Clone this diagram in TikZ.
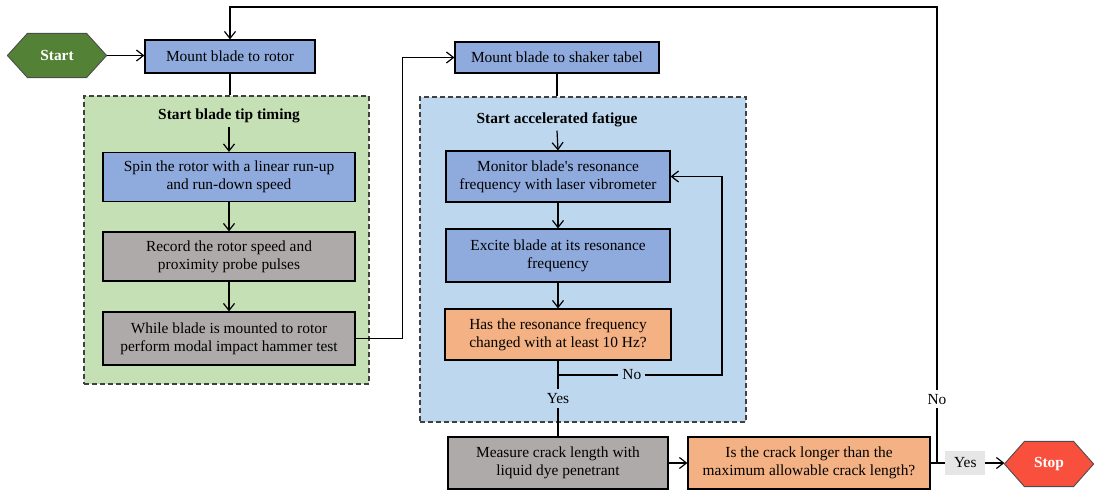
\documentclass[tikz,border=0pt]{standalone}
\usepackage{fontspec}
\setmainfont{Liberation Serif}
\usetikzlibrary{arrows.meta,backgrounds}

\definecolor{stepblue}{HTML}{8FAADC}
\definecolor{stepgray}{HTML}{AEAAAA}
\definecolor{steporange}{HTML}{F4B183}
\definecolor{groupgreen}{HTML}{C5E0B4}
\definecolor{groupblue}{HTML}{BDD7EE}
\definecolor{startgreen}{HTML}{538135}
\definecolor{stopred}{HTML}{F9503E}
\definecolor{labelgray}{HTML}{E7E6E6}

\begin{document}
\begin{tikzpicture}[x=1bp,y=-1bp,
  font=\fontsize{15.4bp}{18bp}\selectfont,
  line width=1.2bp,
  link/.style={solid, draw=black, line width=1.2bp},
  arr/.style={link, -{Straight Barb[length=7bp,width=11bp,line width=1.2bp]}},
  stepbox/.style={draw=black, solid, line width=1.2bp, align=center, inner sep=0pt},
  groupbox/.style={draw=black!75, dash pattern=on 5bp off 3bp, line width=1.2bp, inner sep=0pt},
  grouptitle/.style={font=\fontsize{15.4bp}{18bp}\selectfont\bfseries},
  terminal/.style={inner sep=0pt, text=white, font=\fontsize{15.4bp}{18bp}\selectfont\bfseries},
  hexfill/.style={solid, draw=black!70, line width=0.9bp}]

\useasboundingbox (0,0) rectangle (1094,490);

% dashed group containers
\node[groupbox, fill=groupgreen, minimum width=285bp, minimum height=288bp] (gbox) at (226.5,240) {};
\node[groupbox, fill=groupblue, minimum width=326bp, minimum height=325bp] (bbox) at (583,259.5) {};

% terminals
\node[terminal, minimum width=98bp, minimum height=43bp] (start) at (57,55.5) {Start};
\node[terminal, minimum width=88bp, minimum height=44bp] (stop) at (1049,464) {Stop};
\begin{pgfonlayer}{background}
  \fill[startgreen, hexfill] (start.west) -- ([xshift=20bp]start.north west) -- ([xshift=-20bp]start.north east)
    -- (start.east) -- ([xshift=-20bp]start.south east) -- ([xshift=20bp]start.south west) -- cycle;
  \fill[stopred, hexfill] (stop.west) -- ([xshift=20bp]stop.north west) -- ([xshift=-20bp]stop.north east)
    -- (stop.east) -- ([xshift=-20bp]stop.south east) -- ([xshift=20bp]stop.south west) -- cycle;
\end{pgfonlayer}

% rotor branch
\node[stepbox, fill=stepblue, minimum width=170bp, minimum height=33bp] (mount) at (230,56.5) {Mount blade to rotor};
\node[grouptitle] (gtitle) at (229,116) {Start blade tip timing};
\node[stepbox, fill=stepblue, minimum width=252bp, minimum height=49bp] (spin) at (229,177) {Spin the rotor with a linear run-up\\and run-down speed};
\node[stepbox, fill=stepgray, minimum width=252bp, minimum height=49bp] (record) at (229,256.5) {Record the rotor speed and\\proximity probe pulses};
\node[stepbox, fill=stepgray, minimum width=252bp, minimum height=53bp] (while) at (229,338.5) {While blade is mounted to rotor\\perform modal impact hammer test};

% shaker branch
\node[stepbox, fill=stepblue, minimum width=204bp, minimum height=31bp] (shaker) at (557,57.5) {Mount blade to shaker tabel};
\node[grouptitle] (btitle) at (557,120) {Start accelerated fatigue};
\node[stepbox, fill=stepblue, minimum width=224bp, minimum height=51bp] (monitor) at (558,176.5) {Monitor blade\textquotesingle s resonance\\frequency with laser vibrometer};
\node[stepbox, fill=stepblue, minimum width=224bp, minimum height=53bp] (excite) at (558,255.5) {Excite blade at its resonance\\frequency};
\node[stepbox, fill=steporange, minimum width=226bp, minimum height=51bp] (has) at (558,334.5) {Has the resonance frequency\\changed with at least 10 Hz?};

% inspection row
\node[stepbox, fill=stepgray, minimum width=220bp, minimum height=52bp] (measure) at (558,463) {Measure crack length with\\liquid dye penetrant};
\node[stepbox, fill=steporange, minimum width=242bp, minimum height=52bp] (crack) at (809,463) {Is the crack longer than the\\maximum allowable crack length?};

\coordinate (topturn) at (937,7);
\coordinate (fork) at (937,463);
\coordinate (noturn) at (558,375);

% connectors
\draw[arr] (start.east) -- (start.east -| mount.west);
\draw[link] (mount.south) -- (mount.south |- gbox.north);
\draw[arr] (gtitle.south) -- (spin.north);
\draw[arr] (spin.south) -- (record.north);
\draw[arr] (record.south) -- (while.north);
\draw[arr] (while.east) -- ++(47,0) |- (shaker.west);
\draw[link] (shaker.south) -- (shaker.south |- bbox.north);
\draw[arr] (btitle.south) -- (monitor.north);
\draw[arr] (monitor.south) -- (excite.north);
\draw[arr] (excite.south) -- (has.north);
\draw[arr] (noturn) -- node[pos=0.45, fill=groupblue, inner sep=4bp] {No} ++(164,0) |- (monitor.east);
\draw[link] (has.south) -- node[pos=0.5, fill=groupblue, inner sep=4bp] {Yes} (measure.north);
\draw[arr] (measure.east) -- (crack.west);
\draw[arr] (crack.east) -- node[pos=0.47, fill=labelgray, minimum width=40bp, minimum height=24bp, inner sep=0pt] {Yes} (crack.east -| stop.west);
\draw[arr] (fork) -- node[pos=0.14, fill=white, inner sep=4bp] {No} (topturn) -| (mount.north);

\end{tikzpicture}
\end{document}
